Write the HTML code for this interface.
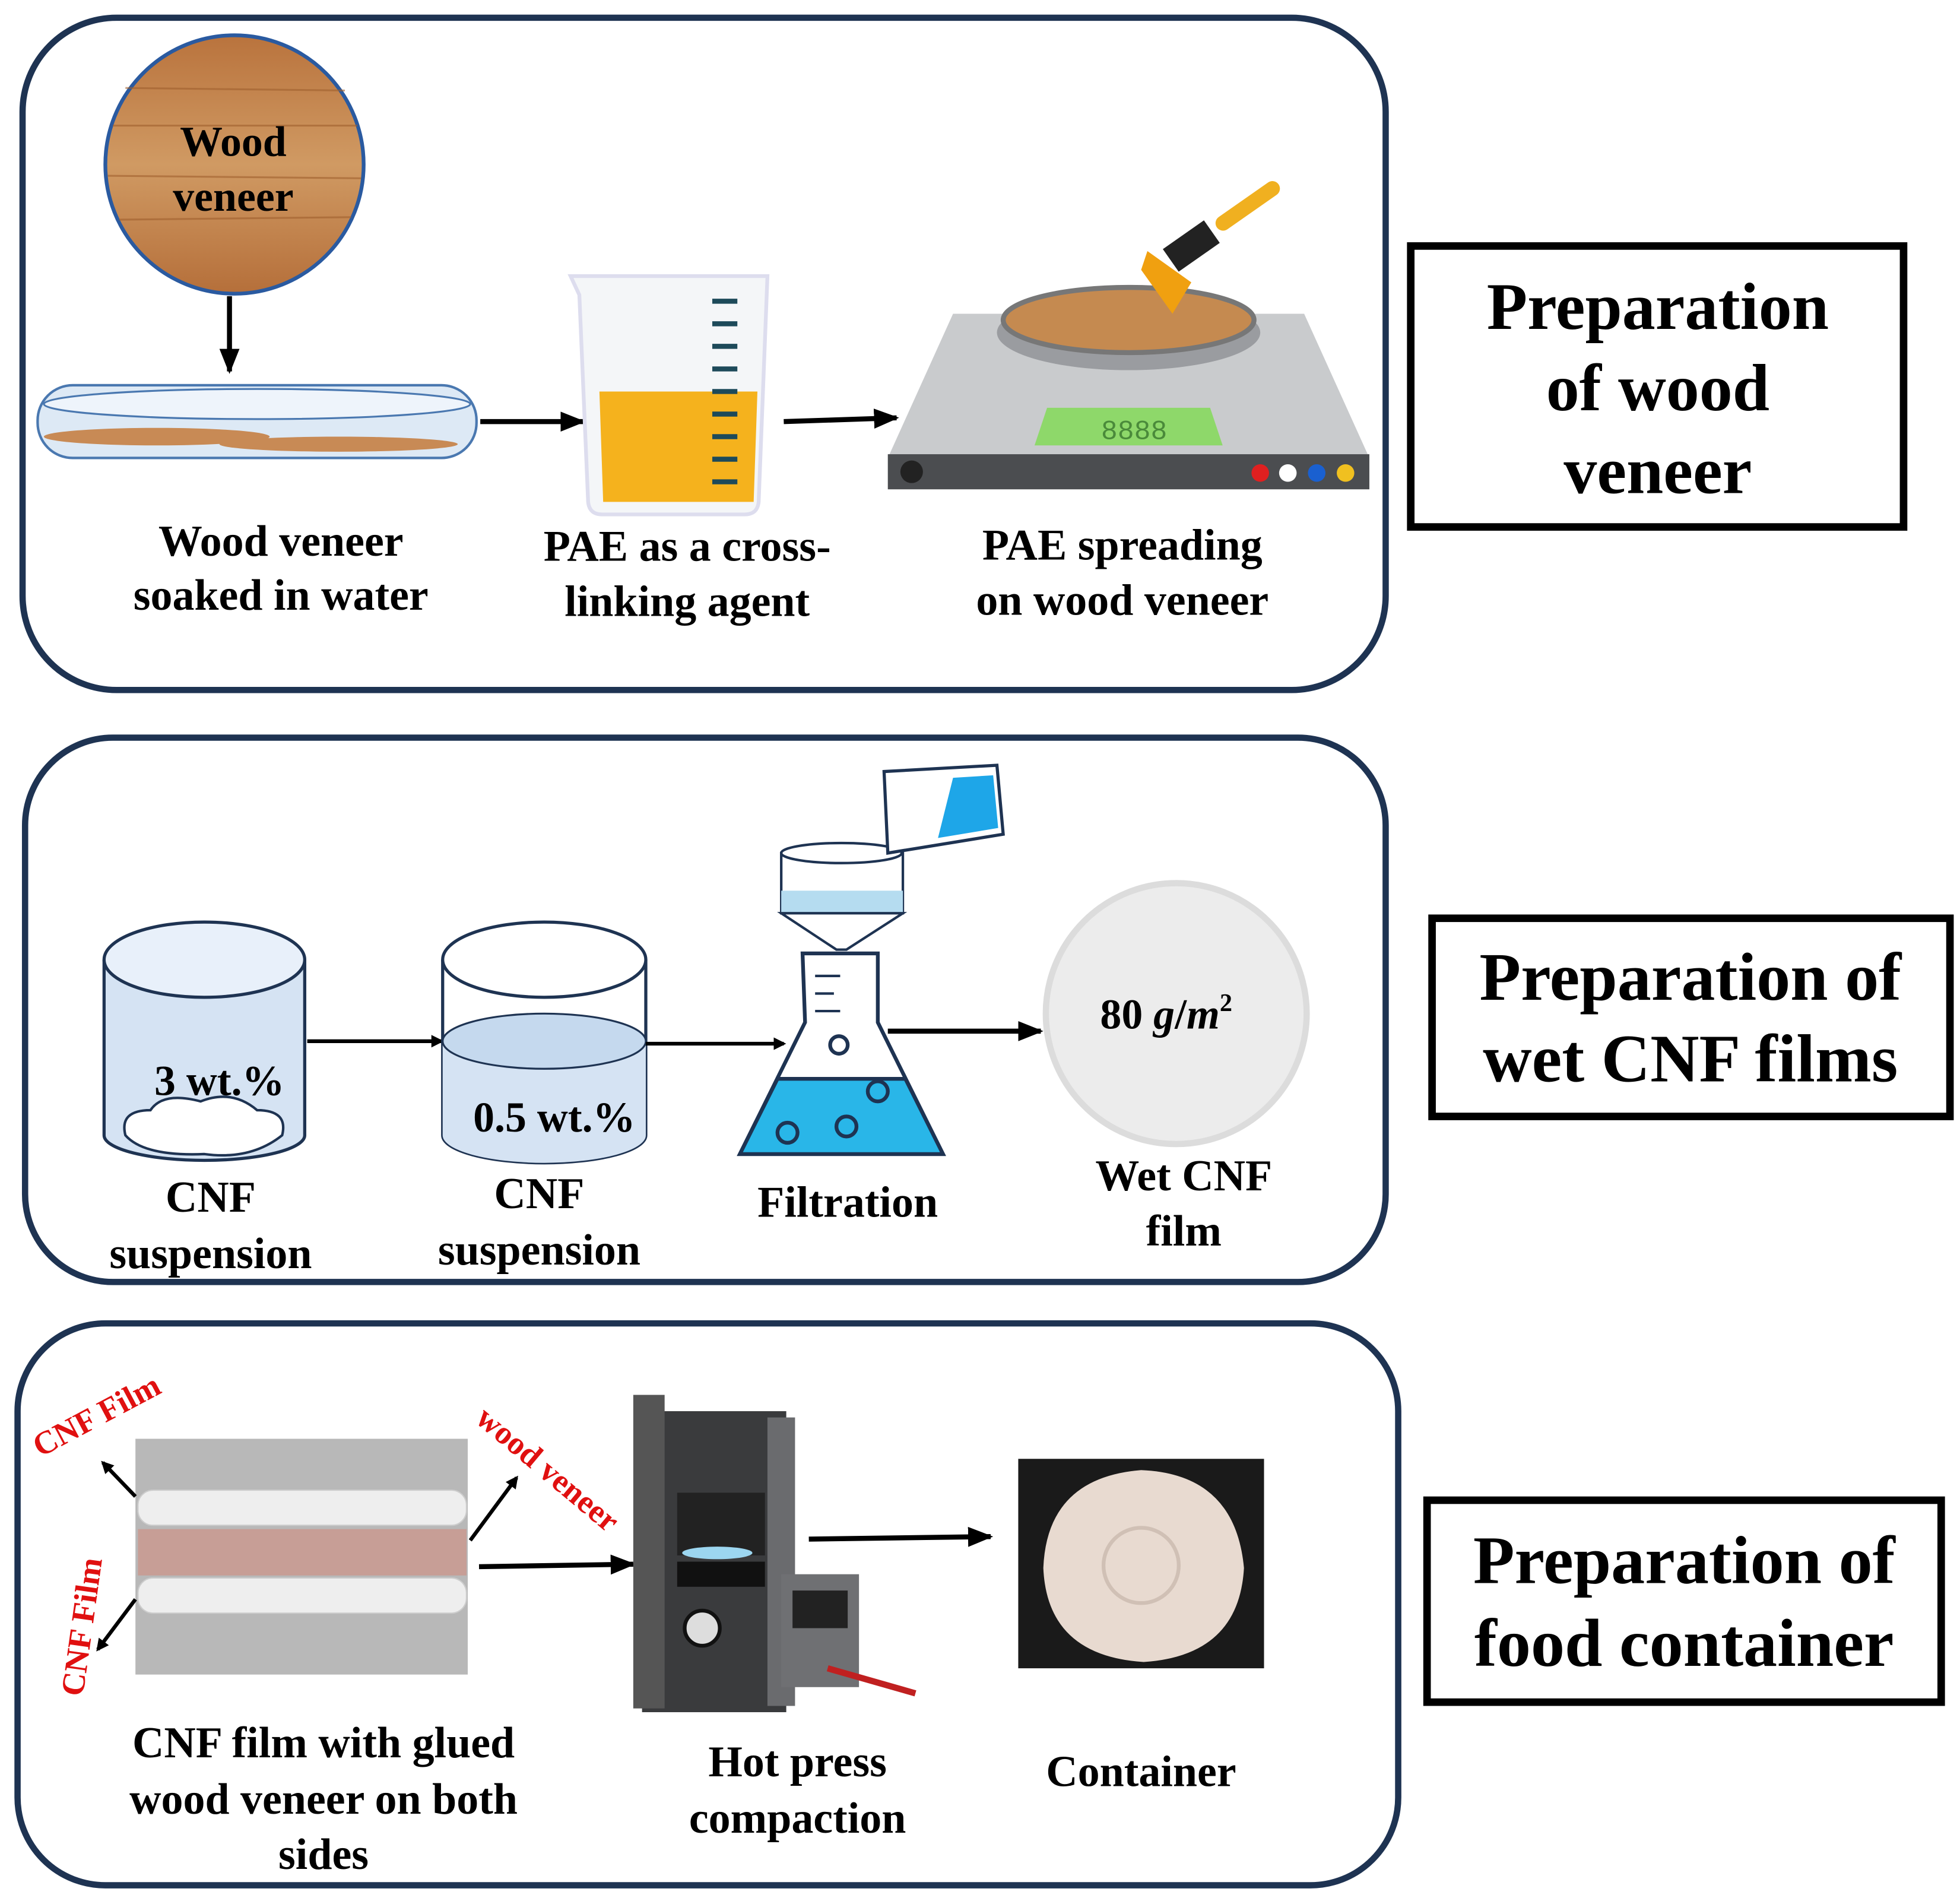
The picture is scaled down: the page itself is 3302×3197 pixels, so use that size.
<!DOCTYPE html>
<html><head><meta charset="utf-8"><style>html,body{margin:0;padding:0;background:#fff}svg{display:block}</style></head><body>
<svg width="3302" height="3197" viewBox="0 0 1563 1513" xmlns="http://www.w3.org/2000/svg" font-family="Liberation Serif, serif" font-weight="bold">
<defs>
<marker id="ah" markerWidth="10" markerHeight="10" refX="8" refY="5" orient="auto" markerUnits="userSpaceOnUse"><path d="M0,0 L10,5 L0,10 z" fill="#000"/></marker>
<marker id="ah2" markerWidth="20" markerHeight="20" refX="18" refY="10" orient="auto" markerUnits="userSpaceOnUse"><path d="M0,2 L20,10 L0,18 z" fill="#000"/></marker>
<linearGradient id="wood" x1="0" y1="0" x2="0" y2="1"><stop offset="0" stop-color="#b9733d"/><stop offset=".5" stop-color="#d09a63"/><stop offset="1" stop-color="#b56f3a"/></linearGradient>
</defs>
<rect x="18" y="14" width="1087" height="536" rx="75" fill="none" stroke="#1e3352" stroke-width="5"/>
<rect x="20" y="588" width="1085" height="434" rx="70" fill="none" stroke="#1e3352" stroke-width="5"/>
<rect x="14" y="1055" width="1101" height="448" rx="70" fill="none" stroke="#1e3352" stroke-width="5"/>
<rect x="1125" y="196" width="393" height="224" fill="none" stroke="#000" stroke-width="6"/>
<g font-size="53" text-anchor="middle"><text x="1322" y="262">Preparation</text><text x="1322" y="327">of wood</text><text x="1322" y="393">veneer</text></g>
<rect x="1142" y="732" width="413" height="158" fill="none" stroke="#000" stroke-width="6"/>
<g font-size="54" text-anchor="middle"><text x="1348" y="797">Preparation of</text><text x="1348" y="862">wet CNF films</text></g>
<rect x="1138" y="1196" width="410" height="161" fill="none" stroke="#000" stroke-width="6"/>
<g font-size="54" text-anchor="middle"><text x="1343" y="1262">Preparation of</text><text x="1343" y="1328">food container</text></g>

<circle cx="187" cy="131" r="103" fill="url(#wood)" stroke="#2a5aa0" stroke-width="3"/>
<g stroke="#a0602e" stroke-width="1.5" opacity=".6"><line x1="90" y1="100" x2="285" y2="100"/><line x1="86" y1="140" x2="288" y2="142"/><line x1="95" y1="175" x2="280" y2="173"/><line x1="100" y1="70" x2="275" y2="72"/></g>
<g font-size="34" text-anchor="middle"><text x="186" y="124">Wood</text><text x="186" y="168">veneer</text></g>
<line x1="183" y1="236" x2="183" y2="296" stroke="#000" stroke-width="4" marker-end="url(#ah2)"/>
<rect x="30" y="307" width="350" height="58" rx="28" fill="#dde9f5" stroke="#4a78b0" stroke-width="2"/>
<ellipse cx="205" cy="322" rx="170" ry="12" fill="#eef4fb" stroke="#4a78b0" stroke-width="1.5"/>
<ellipse cx="125" cy="348" rx="90" ry="7" fill="#c88a55"/><ellipse cx="270" cy="354" rx="95" ry="6" fill="#c88a55"/>
<line x1="383" y1="336" x2="465" y2="336" stroke="#000" stroke-width="4" marker-end="url(#ah2)"/>
<path d="M455,220 L612,220 L605,400 Q604,410 594,410 L480,410 Q470,410 469,400 L462,235 Z" fill="#f4f6f8" stroke="#dde" stroke-width="3"/>
<path d="M478,312 L604,312 L601,400 L481,400 Z" fill="#f5b21d"/>
<g stroke="#1d4a5a" stroke-width="4">
<line x1="568" y1="240" x2="588" y2="240"/><line x1="568" y1="258" x2="588" y2="258"/><line x1="568" y1="276" x2="588" y2="276"/><line x1="568" y1="294" x2="588" y2="294"/><line x1="568" y1="312" x2="588" y2="312"/><line x1="568" y1="330" x2="588" y2="330"/><line x1="568" y1="348" x2="588" y2="348"/><line x1="568" y1="366" x2="588" y2="366"/><line x1="568" y1="384" x2="588" y2="384"/></g>
<line x1="625" y1="336" x2="715" y2="333" stroke="#000" stroke-width="4" marker-end="url(#ah2)"/>
<path d="M760,250 L1040,250 L1092,365 L708,365 Z" fill="#c9cbcd"/>
<rect x="708" y="362" width="384" height="28" fill="#4b4d50"/>
<circle cx="727" cy="376" r="9" fill="#222"/>
<circle cx="1005" cy="377" r="7" fill="#e02020"/><circle cx="1027" cy="377" r="7" fill="#fff"/><circle cx="1050" cy="377" r="7" fill="#1a60d0"/><circle cx="1073" cy="377" r="7" fill="#f0c020"/>
<path d="M835,325 L965,325 L975,355 L825,355 Z" fill="#8ed86a"/>
<text x="878" y="350" font-size="22" font-family="Liberation Mono" fill="#4a8a3a" font-weight="normal">8888</text>
<ellipse cx="900" cy="265" rx="105" ry="30" fill="#9a9ca0"/>
<ellipse cx="900" cy="255" rx="100" ry="26" fill="#c58a50" stroke="#777" stroke-width="4"/>
<path d="M915,200 L950,225 L935,250 L910,215 Z" fill="#f0a010"/>
<rect x="930" y="185" width="40" height="22" fill="#222" transform="rotate(-35 950 196)"/>
<rect x="965" y="158" width="60" height="12" rx="6" fill="#f0b020" transform="rotate(-35 995 164)"/>
<g font-size="35" text-anchor="middle">
<text x="224" y="443">Wood  veneer</text><text x="224" y="486">soaked in water</text>
<text x="548" y="447">PAE as a cross-</text><text x="548" y="491">linking agent</text>
<text x="895" y="446">PAE spreading</text><text x="895" y="490">on wood veneer</text></g>

<path d="M83,765 L83,905 A80,20 0 0 0 243,905 L243,765" fill="#d5e3f3" stroke="#1e3352" stroke-width="2.5"/>
<ellipse cx="163" cy="765" rx="80" ry="30" fill="#e8f0fa" stroke="#1e3352" stroke-width="2.5"/>
<path d="M100,905 Q95,885 120,885 Q130,870 160,878 Q185,868 205,885 Q230,885 225,905 Q200,925 163,920 Q115,922 100,905 Z" fill="#fff" stroke="#1e3352" stroke-width="2"/>
<text x="175" y="873" font-size="34" text-anchor="middle">3 wt.%</text>
<line x1="245" y1="830" x2="352" y2="830" stroke="#000" stroke-width="3" marker-end="url(#ah)"/>
<path d="M353,765 L353,905 A81,22 0 0 0 515,905 L515,765" fill="#fff" stroke="#1e3352" stroke-width="2.5"/>
<path d="M353,830 L353,905 A81,22 0 0 0 515,905 L515,830 Z" fill="#d5e3f3"/>
<ellipse cx="434" cy="830" rx="81" ry="22" fill="#c5d9ee" stroke="#1e3352" stroke-width="1.5"/>
<ellipse cx="434" cy="765" rx="81" ry="30" fill="#fff" stroke="#1e3352" stroke-width="2.5"/>
<text x="442" y="902" font-size="34" text-anchor="middle">0.5 wt.%</text>
<line x1="515" y1="832" x2="625" y2="832" stroke="#000" stroke-width="3" marker-end="url(#ah)"/>
<path d="M640,760 L700,760 L700,815 L752,920 L590,920 L642,815 Z" fill="#fff" stroke="#1e3352" stroke-width="3"/>
<path d="M620,860 L722,860 L752,920 L590,920 Z" fill="#29b6e8" stroke="#1e3352" stroke-width="3"/>
<circle cx="669" cy="833" r="7" fill="none" stroke="#1e3352" stroke-width="3"/><circle cx="628" cy="903" r="8" fill="none" stroke="#1e3352" stroke-width="3"/><circle cx="675" cy="898" r="8" fill="none" stroke="#1e3352" stroke-width="3"/><circle cx="700" cy="870" r="8" fill="none" stroke="#1e3352" stroke-width="3"/>
<g stroke="#1e3352" stroke-width="2"><line x1="650" y1="778" x2="670" y2="778"/><line x1="650" y1="792" x2="665" y2="792"/><line x1="650" y1="806" x2="670" y2="806"/></g>
<rect x="623" y="680" width="97" height="48" fill="#fff" stroke="#1e3352" stroke-width="2"/>
<rect x="623" y="710" width="97" height="18" fill="#b5dcf0"/>
<ellipse cx="671" cy="680" rx="48" ry="8" fill="#fff" stroke="#1e3352" stroke-width="2"/>
<path d="M623,728 L720,728 L675,757 L667,757 Z" fill="#fff" stroke="#1e3352" stroke-width="2"/>
<path d="M705,615 L795,610 L800,665 L708,680 Z" fill="#fff" stroke="#1e3352" stroke-width="2.5"/>
<path d="M760,620 L792,618 L796,660 L748,668 Z" fill="#1ea6e8"/>
<line x1="708" y1="822" x2="830" y2="822" stroke="#000" stroke-width="4" marker-end="url(#ah2)"/>
<circle cx="938" cy="808" r="104" fill="#ececec" stroke="#dcdcdc" stroke-width="5"/>
<text x="930" y="820" font-size="34" text-anchor="middle">80 <tspan font-style="italic">g</tspan>/<tspan font-style="italic">m</tspan><tspan font-size="20" dy="-14">2</tspan></text>
<g font-size="35" text-anchor="middle">
<text x="168" y="966">CNF</text><text x="168" y="1011">suspension</text>
<text x="430" y="963">CNF</text><text x="430" y="1008">suspension</text>
<text x="676" y="970">Filtration</text>
<text x="944" y="949">Wet CNF</text><text x="944" y="993">film</text></g>

<rect x="108" y="1147" width="265" height="188" fill="#b8b8b8"/>
<rect x="110" y="1188" width="262" height="28" rx="12" fill="#eeeeee" stroke="#ccc"/>
<rect x="110" y="1219" width="262" height="37" fill="#c79e96"/>
<rect x="110" y="1258" width="262" height="28" rx="12" fill="#eeeeee" stroke="#ccc"/>
<line x1="108" y1="1193" x2="82" y2="1166" stroke="#000" stroke-width="3" marker-end="url(#ah)"/>
<line x1="108" y1="1275" x2="78" y2="1315" stroke="#000" stroke-width="3" marker-end="url(#ah)"/>
<line x1="375" y1="1228" x2="412" y2="1178" stroke="#000" stroke-width="3" marker-end="url(#ah)"/>
<g fill="#e01010" font-size="26">
<text x="32" y="1162" transform="rotate(-28 32 1162)">CNF Film</text>
<text x="66" y="1353" transform="rotate(-82 66 1353)">CNF Film</text>
<text x="378" y="1133" transform="rotate(40 378 1133)">wood veneer</text></g>
<line x1="382" y1="1249" x2="505" y2="1247" stroke="#000" stroke-width="4" marker-end="url(#ah2)"/>
<rect x="512" y="1125" width="115" height="240" fill="#3a3b3d"/>
<rect x="505" y="1112" width="25" height="250" fill="#555"/><rect x="612" y="1130" width="22" height="230" fill="#6a6b6e"/>
<rect x="540" y="1190" width="70" height="50" fill="#222"/>
<ellipse cx="572" cy="1238" rx="28" ry="5" fill="#9cd6f0"/>
<rect x="540" y="1245" width="70" height="20" fill="#111"/>
<circle cx="560" cy="1298" r="14" fill="#ddd" stroke="#111" stroke-width="3"/>
<rect x="623" y="1255" width="62" height="90" fill="#6f7073"/>
<rect x="632" y="1268" width="44" height="30" fill="#222"/>
<line x1="660" y1="1330" x2="730" y2="1350" stroke="#c02020" stroke-width="5"/>
<line x1="645" y1="1227" x2="790" y2="1225" stroke="#000" stroke-width="4" marker-end="url(#ah2)"/>
<rect x="812" y="1163" width="196" height="167" fill="#1a1a1a"/>
<path d="M910,1172 Q985,1175 992,1250 Q988,1320 912,1325 Q835,1320 832,1250 Q835,1178 910,1172 Z" fill="#e8dad0"/>
<circle cx="910" cy="1248" r="30" fill="none" stroke="#d0c0b5" stroke-width="3"/>
<g font-size="35" text-anchor="middle">
<text x="258" y="1401">CNF film with glued</text><text x="258" y="1446">wood veneer on both</text><text x="258" y="1490">sides</text>
<text x="636" y="1416">Hot press</text><text x="636" y="1461">compaction</text>
<text x="910" y="1424">Container</text></g>
</svg>
</body></html>
